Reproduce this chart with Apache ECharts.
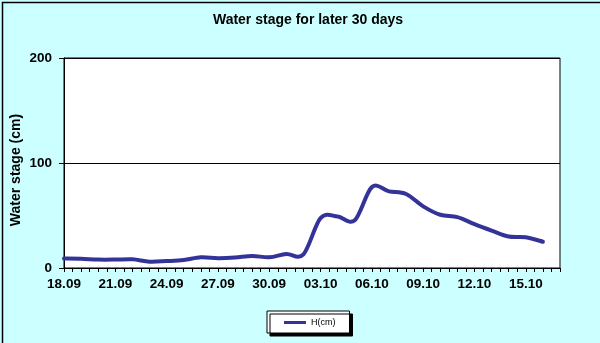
<!DOCTYPE html>
<html>
<head>
<meta charset="utf-8">
<script src="https://cdn.jsdelivr.net/npm/echarts@6/dist/echarts.min.js"></script>
<style>
  html, body { margin: 0; padding: 0; background: #CCFFFF; }
  #chart { width: 600px; height: 343px; }
</style>
</head>
<body>
<div id="chart"></div>
<script>
// Day labels along the axis (18.09 .. 17.10)
const dayLabels = ["18.09","19.09","20.09","21.09","22.09","23.09","24.09","25.09","26.09","27.09",
  "28.09","29.09","30.09","01.10","02.10","03.10","04.10","05.10","06.10","07.10",
  "08.10","09.10","10.10","11.10","12.10","13.10","14.10","15.10","16.10","17.10"];
// Daily water stage H (cm), 18.09 .. 16.10
const hValues = [9, 8.8, 8, 8, 8.3, 6, 6.6, 7.6, 10.2, 9.3,
  9.9, 11.5, 10.2, 13.4, 13, 47.5, 49, 45.5, 77, 73,
  70.5, 58.7, 50.7, 48.5, 41.8, 35.7, 30, 29.3, 25];
const yTicks = [0, 100, 200];

// axis categories: one tick every half day
const categories = [];
dayLabels.forEach((d, i) => {
  categories.push(d);
  if (i < dayLabels.length - 1) categories.push(d + " 12h");
});
const seriesData = hValues.map((v, i) => [i * 2, v]);

const FONT = 'Liberation Sans, Arial, sans-serif';
const LINE_COLOR = '#333399';

// Smoothed line (Catmull-Rom style, like the spreadsheet's smoothed line),
// every point placed through the axis scales with api.coord.
function renderSmoothLine(params, api) {
  if (params.dataIndex !== 0) return null;
  const pts = seriesData.map(d => api.coord(d));
  const n = pts.length;
  let path = 'M' + pts[0][0] + ' ' + pts[0][1];
  for (let i = 0; i < n - 1; i++) {
    const p0 = pts[Math.max(i - 1, 0)];
    const p1 = pts[i];
    const p2 = pts[i + 1];
    const p3 = pts[Math.min(i + 2, n - 1)];
    const c1x = p1[0] + (p2[0] - p0[0]) / 6;
    const c1y = p1[1] + (p2[1] - p0[1]) / 6;
    const c2x = p2[0] - (p3[0] - p1[0]) / 6;
    const c2y = p2[1] - (p3[1] - p1[1]) / 6;
    path += ' C' + c1x + ' ' + c1y + ' ' + c2x + ' ' + c2y + ' ' + p2[0] + ' ' + p2[1];
  }
  return {
    type: 'path',
    shape: { pathData: path },
    style: { fill: 'none', stroke: LINE_COLOR, lineWidth: 4, lineJoin: 'round', lineCap: 'round' },
    silent: true
  };
}

const chart = echarts.init(document.getElementById('chart'), null, { renderer: 'canvas' });
chart.setOption({
  backgroundColor: '#CCFFFF',
  animation: false,
  title: {
    text: 'Water stage for later 30 days',
    left: 308,
    top: 13,
    padding: 0,
    textAlign: 'center',
    textStyle: { fontFamily: FONT, fontWeight: 'bold', fontSize: 14, color: '#000' }
  },
  grid: {
    left: 64, right: 40, top: 58, bottom: 75,
    containLabel: false,
    outerBoundsMode: 'none',
    show: true, backgroundColor: '#FFFFFF', borderColor: '#000', borderWidth: 1
  },
  legend: {
    data: ['H(cm)'],
    left: 267, top: 311,
    orient: 'horizontal',
    padding: [7, 14, 6, 17],
    backgroundColor: '#FFFFFF',
    borderColor: '#000', borderWidth: 1,
    shadowColor: '#000', shadowBlur: 0, shadowOffsetX: 3, shadowOffsetY: 3,
    itemWidth: 22, itemHeight: 3,
    icon: 'rect',
    itemStyle: { color: LINE_COLOR },
    textStyle: { fontFamily: FONT, fontSize: 9, color: '#000' }
  },
  xAxis: {
    type: 'category',
    data: categories,
    boundaryGap: false,
    axisLine: { lineStyle: { color: '#000', width: 1 } },
    axisTick: { show: true, interval: 0, length: 4, inside: false, lineStyle: { color: '#000' } },
    axisLabel: {
      interval: 5, margin: 9,
      fontFamily: FONT, fontWeight: 'bold', fontSize: 13.5, color: '#000'
    },
    splitLine: { show: false }
  },
  yAxis: {
    type: 'value',
    min: yTicks[0], max: yTicks[yTicks.length - 1], interval: yTicks[1] - yTicks[0],
    name: 'Water stage (cm)',
    nameLocation: 'middle',
    nameRotate: 90,
    nameGap: 41,
    nameMoveOverlap: false,
    nameTextStyle: { fontFamily: FONT, fontWeight: 'bold', fontSize: 14, color: '#000', padding: [0, 14, 0, 0] },
    axisLine: { show: true, lineStyle: { color: '#000', width: 1 } },
    axisTick: { show: true, length: 5, lineStyle: { color: '#000' } },
    axisLabel: {
      margin: 12,
      fontFamily: FONT, fontWeight: 'bold', fontSize: 13.5, color: '#000'
    },
    splitLine: { show: true, lineStyle: { color: '#000', width: 1 } }
  },
  series: [{
    name: 'H(cm)',
    type: 'custom',
    data: seriesData,
    encode: { x: 0, y: 1 },
    renderItem: renderSmoothLine,
    itemStyle: { color: LINE_COLOR }
  }],
  graphic: [{
    type: 'rect',
    left: 0, top: 0,
    shape: { x: 0, y: 0, width: 599, height: 342 },
    style: { fill: 'none', stroke: '#000', lineWidth: 1.5 },
    silent: true
  }]
});
</script>
</body>
</html>
